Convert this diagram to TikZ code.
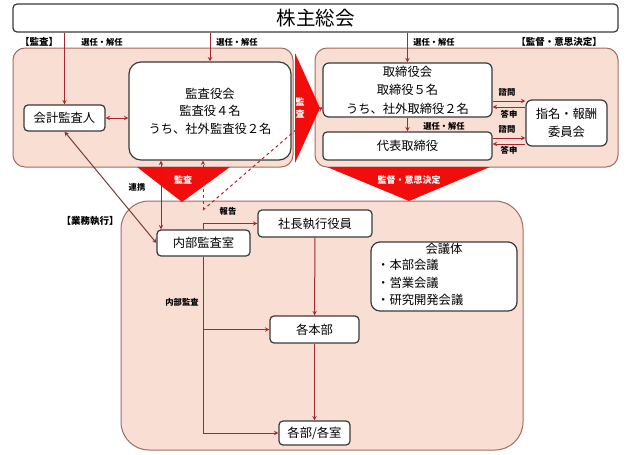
\documentclass[tikz,border=0pt]{standalone}
\usepackage{fontspec}
\setmainfont{Noto Sans CJK JP}
\usepackage{tikz}
\usetikzlibrary{calc,positioning,arrows}
\definecolor{regfill}{HTML}{F9DED3}
\definecolor{regline}{HTML}{A56A5F}
\definecolor{boxline}{HTML}{3A3A3A}
\definecolor{lnred}{HTML}{A4282D}
\definecolor{lnbrown}{HTML}{7A3A3A}
\definecolor{arrred}{HTML}{F20D0D}

\begin{document}
\begin{tikzpicture}[x=1pt,y=-1pt,
		box/.style={draw=boxline, line width=1.2pt, fill=white, rounded corners=4pt, inner sep=0pt, align=center, font=\fontsize{12.3}{17.5}\selectfont},
		region/.style={draw=regline, line width=1pt, fill=regfill},
		conn/.style={draw=lnred, line width=1pt, -stealth},
		lbl/.style={inner sep=0pt, font=\bfseries\fontsize{8.3}{9}\selectfont},
		tag/.style={inner sep=0pt, font=\bfseries\fontsize{9.5}{10}\selectfont},
		redlbl/.style={inner sep=0pt, text=white, align=center, font=\bfseries\fontsize{9}{10}\selectfont}]
			\useasboundingbox (0,0) rectangle (635,455);
			% regions
			\draw[region, rounded corners=12pt] (13,48) rectangle (293,167);
			\draw[region, rounded corners=12pt] (315,48) rectangle (618,167);
			\draw[region, rounded corners=28pt] (121,201) rectangle (523,450);
			% boxes
			\node[box, minimum width=605pt, minimum height=28pt, font=\fontsize{19.5}{22}\selectfont] (soukai) at (315.5,18) {株主総会};
			\node[box, minimum width=81pt, minimum height=26pt] (kaikei) at (64.5,118) {会計監査人};
			\node[box, rounded corners=12pt, minimum width=162pt, minimum height=98pt] (kansa) at (210,111) {監査役会\\監査役４名\\うち、社外監査役２名};
			\node[box, rounded corners=6pt, minimum width=169pt, minimum height=54pt, font=\fontsize{12.3}{18.5}\selectfont] (torishimari) at (407.5,90) {取締役会\\取締役５名\\うち、社外取締役２名};
			\node[box, minimum width=169pt, minimum height=28pt] (daihyo) at (407.5,146) {代表取締役};
			\node[box, rounded corners=6pt, minimum width=81pt, minimum height=46pt] (shimei) at (566.5,123) {指名・報酬\\委員会};
			\node[box, minimum width=93pt, minimum height=26pt] (naibu) at (203.5,243) {内部監査室};
			\node[box, minimum width=114pt, minimum height=27pt] (shacho) at (315,223.5) {社長執行役員};
			\node[box, rounded corners=9pt, minimum width=146pt, minimum height=69pt] (kaigi) at (444,276.5) {};
			\node[inner sep=0pt, font=\fontsize{12.3}{17.5}\selectfont] (kaigihead) at ($(kaigi.north)+(0,7)$) {会議体};
			\node[inner sep=0pt, anchor=north west, align=left, font=\fontsize{12.3}{17.5}\selectfont] (kaigilist) at (377,259) {・本部会議\\・営業会議\\・研究開発会議};
			\node[box, minimum width=89pt, minimum height=27pt] (honbu) at (314.5,329.5) {各本部};
			\node[box, minimum width=71pt, minimum height=24pt] (kakubu) at (314.5,433) {各部/各室};
			% dashed report lines
			\coordinate (dsplit) at (203,210);
			\draw[conn, dashed] (dsplit) -- ($(torishimari.west)+(0,17)$);
			% red arrows
			\fill[arrred] (137,167) -- (230,167) -- (182,202) -- cycle;
			\fill[arrred] (295,53) -- (320,108) -- (295,163) -- cycle;
			\fill[arrred] (327,167) -- (490,167) -- (409,201) -- cycle;
			\node[redlbl] (rkansa) at (183,180) {監査};
			\node[redlbl, font=\bfseries\fontsize{9}{12.5}\selectfont] (rkansa2) at (300,108) {監\\査};
			\node[redlbl] (rkantoku) at (409,180) {監督・意思決定};
			% connectors
			\draw[conn] (soukai.south -| kaikei.north) -- (kaikei.north);
			\draw[conn] (soukai.south -| kansa.north) -- (kansa.north);
			\draw[conn] (soukai.south -| torishimari.north) -- (torishimari.north);
			\draw[conn, stealth-stealth] (kaikei.east) -- (kaikei.east -| kansa.west);
			\draw[conn] (torishimari) -- (daihyo);
			\draw[conn] (torishimari.east |- 0,101) -- (shimei.west |- 0,101);
			\draw[conn, stealth-] (torishimari.east |- 0,107) -- (shimei.west |- 0,107);
			\draw[conn] (daihyo.east |- 0,138) -- (shimei.west |- 0,138);
			\draw[conn, stealth-] (daihyo.east |- 0,144) -- (shimei.west |- 0,144);
			\draw[conn, stealth-stealth] (kansa.south -| 161,0) -- (naibu.north -| 161,0);
			\draw[conn, dashed] (dsplit) -- (dsplit |- kansa.south);
			\draw[conn, lnbrown, stealth-stealth] (kaikei.south) -- (naibu.west);
			\draw[conn] (naibu.north) |- (shacho.west);
			\draw[conn] (naibu.south) |- (honbu.west);
			\draw[conn] (naibu.south) |- (kakubu.west);
			\draw[conn] (shacho) -- (honbu);
			\draw[conn] (honbu) -- (kakubu);
			% labels
			\node[tag] (tkansa) at (39,42) {【監査】};
			\node[tag] (tkantoku) at (559,42) {【監督・意思決定】};
			\node[tag] (tgyomu) at (90,221) {【業務執行】};
			\node[lbl] (sennin1) at (102,42) {選任・解任};
			\node[lbl] (sennin2) at (237,42) {選任・解任};
			\node[lbl] (sennin3) at (434,42) {選任・解任};
			\node[lbl] (sennin4) at (444,126) {選任・解任};
			\node[lbl] (shimon1) at (507,92) {諮問};
			\node[lbl] (toushin1) at (509,114) {答申};
			\node[lbl] (shimon2) at (507,129) {諮問};
			\node[lbl] (toushin2) at (509,150) {答申};
			\node[lbl] (renkei) at (137,187) {連携};
			\node[lbl] (houkoku) at (228,211) {報告};
			\node[lbl] (naibukansa) at (182,302) {内部監査};
	\end{tikzpicture}
\end{document}
